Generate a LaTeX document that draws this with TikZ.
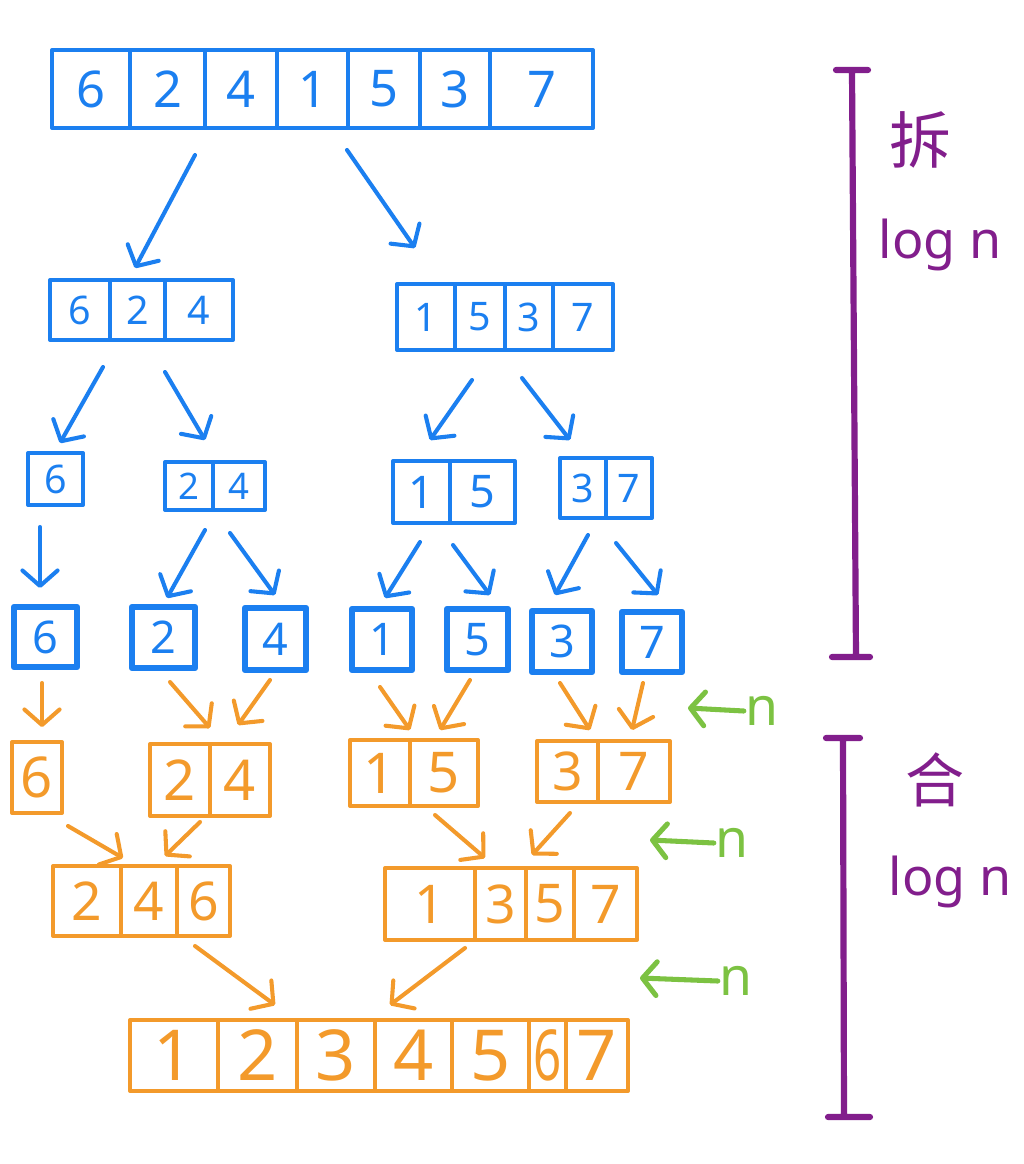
\documentclass[tikz,border=0pt]{standalone}
\usepackage{fontspec}
\setmainfont{Noto Sans}
\newfontfamily\cjk{Noto Sans CJK SC}
\usetikzlibrary{arrows.meta,positioning}

\definecolor{splitblue}{HTML}{1B7FF0}
\definecolor{mergeorange}{HTML}{F39A2B}
\definecolor{costgreen}{HTML}{7CC242}
\definecolor{levelpurple}{HTML}{821E8C}

\newcommand\pxu{0.025cm}

\begin{document}
\begin{tikzpicture}[
    x=0.025cm,
    y=-0.025cm,
    line join=round,
    line cap=round,
    fs/.style={font=\fontsize{#1}{#1}\selectfont},
    cw/.style={minimum width=#1*\pxu},
    ch/.style={minimum height=#1*\pxu},
    bcell/.style={
        draw=splitblue,
        text=splitblue,
        line width=2.9pt,
        rectangle,
        inner sep=0pt,
        outer sep=0pt
    },
    bsingle/.style={bcell, line width=4.6pt},
    ocell/.style={
        draw=mergeorange,
        text=mergeorange,
        line width=2.9pt,
        rectangle,
        inner sep=0pt,
        outer sep=0pt
    },
    split/.style={draw=splitblue, line width=2.9pt, -{Straight Barb[length=11pt,width=25pt,round]}},
    merge/.style={draw=mergeorange, line width=2.9pt, -{Straight Barb[length=11pt,width=25pt,round]}},
    cost/.style={draw=costgreen, line width=3.6pt, -{Straight Barb[length=10pt,width=24pt,round]}},
    costlabel/.style={text=costgreen, fs=38, inner sep=1pt},
    bracket/.style={draw=levelpurple, line width=4.4pt},
    note/.style={text=levelpurple, inner sep=0pt}
]
\useasboundingbox (0,0) rectangle (1024,1164);

% =========================
% Split: blue arrays
% =========================
\node[bcell, fs=36, cw=78, ch=78] (t6) at (91,89) {6};
\node[bcell, fs=36, cw=75, ch=78, right=0pt of t6] (t2) {2};
\node[bcell, fs=36, cw=72, ch=78, right=0pt of t2] (t4) {4};
\node[bcell, fs=36, cw=71, ch=78, right=0pt of t4] (t1) {1};
\node[bcell, fs=36, cw=72, ch=78, right=0pt of t1] (t5) {5};
\node[bcell, fs=36, cw=70, ch=78, right=0pt of t5] (t3) {3};
\node[bcell, fs=36, cw=103, ch=78, right=0pt of t3] (t7) {7};

\node[bcell, fs=28, cw=60, ch=60] (la6) at (80,310) {6};
\node[bcell, fs=28, cw=55, ch=60, right=0pt of la6] (la2) {2};
\node[bcell, fs=28, cw=68, ch=60, right=0pt of la2] (la4) {4};

\node[bcell, fs=28, cw=58, ch=66] (ra1) at (426,317) {1};
\node[bcell, fs=28, cw=50, ch=66, right=0pt of ra1] (ra5) {5};
\node[bcell, fs=28, cw=48, ch=66, right=0pt of ra5] (ra3) {3};
\node[bcell, fs=28, cw=60, ch=66, right=0pt of ra3] (ra7) {7};

\node[bcell, fs=28, cw=55, ch=52] (sa6) at (55.5,479) {6};

\node[bcell, fs=26, cw=48, ch=48] (sb2) at (189,486) {2};
\node[bcell, fs=26, cw=52, ch=48, right=0pt of sb2] (sb4) {4};

\node[bcell, fs=32, cw=57, ch=62] (sc1) at (421.5,492) {1};
\node[bcell, fs=32, cw=65, ch=62, right=0pt of sc1] (sc5) {5};

\node[bcell, fs=28, cw=46, ch=60] (sd3) at (583,488) {3};
\node[bcell, fs=28, cw=46, ch=60, right=0pt of sd3] (sd7) {7};

\node[bsingle, fs=32, cw=63, ch=60] (u6) at (45.5,637) {6};
\node[bsingle, fs=32, cw=63, ch=61] (u2) at (163.5,637.5) {2};
\node[bsingle, fs=32, cw=61, ch=62] (u4) at (275.5,639) {4};
\node[bsingle, fs=32, cw=60, ch=61] (u1) at (382,639.5) {1};
\node[bsingle, fs=32, cw=61, ch=61] (u5) at (477.5,639.5) {5};
\node[bsingle, fs=32, cw=60, ch=61] (u3) at (562,641.5) {3};
\node[bsingle, fs=32, cw=60, ch=60] (u7) at (652,642) {7};

% =========================
% Merge: orange arrays
% =========================
\node[ocell, fs=40, cw=50, ch=71] (mo6) at (37,777.5) {6};

\node[ocell, fs=40, cw=60, ch=72] (mb2) at (180,780) {2};
\node[ocell, fs=40, cw=60, ch=72, right=0pt of mb2] (mb4) {4};

\node[ocell, fs=40, cw=60, ch=66] (mc1) at (380,773) {1};
\node[ocell, fs=40, cw=68, ch=66, right=0pt of mc1] (mc5) {5};

\node[ocell, fs=38, cw=61, ch=61] (md3) at (567.5,771.5) {3};
\node[ocell, fs=38, cw=72, ch=61, right=0pt of md3] (md7) {7};

\node[ocell, fs=38, cw=68, ch=70] (ma2) at (87,901) {2};
\node[ocell, fs=38, cw=56, ch=70, right=0pt of ma2] (ma4) {4};
\node[ocell, fs=38, cw=53, ch=70, right=0pt of ma4] (ma6) {6};

\node[ocell, fs=38, cw=90, ch=72] (mn1) at (430,904) {1};
\node[ocell, fs=38, cw=51, ch=72, right=0pt of mn1] (mn3) {3};
\node[ocell, fs=38, cw=48, ch=72, right=0pt of mn3] (mn5) {5};
\node[ocell, fs=38, cw=63, ch=72, right=0pt of mn5] (mn7) {7};

\node[ocell, fs=50, cw=88, ch=71] (f1) at (174,1055.5) {1};
\node[ocell, fs=50, cw=79, ch=71, right=0pt of f1] (f2) {2};
\node[ocell, fs=50, cw=78, ch=71, right=0pt of f2] (f3) {3};
\node[ocell, fs=50, cw=77, ch=71, right=0pt of f3] (f4) {4};
\node[ocell, fs=50, cw=77, ch=71, right=0pt of f4] (f5) {5};
\node[ocell, fs=50, cw=37, ch=71, right=0pt of f5] (f6) {\makebox[0pt]{\scalebox{0.7}[1]{6}}};
\node[ocell, fs=50, cw=62, ch=71, right=0pt of f6] (f7) {7};

% =========================
% Split arrows
% =========================
\draw[split] ([shift={(27.5,27)}]t2.south) -- ([shift={(-2.5,-12)}]la2.north);
\draw[split] ([shift={(34.5,22)}]t1.south) -- ([shift={(-11,-36)}]ra1.north);
\draw[split] ([shift={(23,27)}]la6.south) -- ([shift={(4.5,-10)}]sa6.north);
\draw[split] ([shift={(27.5,32)}]la2.south) -- ([shift={(16,-22)}]sb2.north);
\draw[split] ([shift={(-8,30)}]ra5.south) -- ([shift={(8.5,-21)}]sc1.north);
\draw[split] ([shift={(-7,28)}]ra3.south) -- ([shift={(-13,-18)}]sd3.north);
\draw[split] ([shift={(-15.5,22)}]sa6.south) -- ([shift={(-5.5,-19)}]u6.north);
\draw[split] ([shift={(16,20)}]sb2.south) -- ([shift={(3.5,-9)}]u2.north);
\draw[split] ([shift={(-9,23)}]sb4.south) -- ([shift={(-0.5,-13)}]u4.north);
\draw[split] ([shift={(-1.5,19)}]sc1.south) -- ([shift={(3,-11)}]u1.north);
\draw[split] ([shift={(-29.5,22)}]sc5.south) -- ([shift={(12.5,-14)}]u5.north);
\draw[split] ([shift={(5,17)}]sd3.south) -- ([shift={(-7,-16)}]u3.north);
\draw[split] ([shift={(-13,25)}]sd7.south) -- ([shift={(6,-17)}]u7.north);

% =========================
% Merge arrows
% =========================
\draw[merge] ([shift={(-3.5,16)}]u6.south) -- ([shift={(5,-15)}]mo6.north);
\draw[merge] ([shift={(6.5,14)}]u2.south) -- ([shift={(30,-16)}]mb2.north);
\draw[merge] ([shift={(-5.5,10)}]u4.south) -- ([shift={(-2,-19)}]mb4.north);
\draw[merge] ([shift={(-2,17)}]u1.south) -- ([shift={(30,-10)}]mc1.north);
\draw[merge] ([shift={(-7.5,10)}]u5.south) -- ([shift={(-4,-10)}]mc5.north);
\draw[merge] ([shift={(-2,11)}]u3.south) -- ([shift={(22.5,-11)}]md3.north);
\draw[merge] ([shift={(-9,11)}]u7.south) -- ([shift={(-2,-11)}]md7.north);
\draw[merge] ([shift={(31,13)}]mo6.south) -- ([shift={(-26,-8)}]ma4.north);
\draw[merge] ([shift={(20,6)}]mb2.south) -- ([shift={(16,-10)}]ma4.north);
\draw[merge] ([shift={(-9,9)}]mc5.south) -- ([shift={(-15.5,-10)}]mn3.north);
\draw[merge] ([shift={(2.5,11)}]md3.south) -- ([shift={(-18,-13)}]mn5.north);
\draw[merge] ([shift={(-8.5,10)}]ma6.south) -- ([shift={(17.5,-15)}]f2.north);
\draw[merge] ([shift={(35,8)}]mn1.south) -- ([shift={(-23.5,-15)}]f4.north);

% =========================
% Cost per level
% =========================
\node[costlabel] (costa) at (762,711) {n};
\node[costlabel] (costb) at (732,843) {n};
\node[costlabel] (costc) at (736,981) {n};
\coordinate (costaend) at (688,708);
\coordinate (costbend) at (650,840);
\coordinate (costcend) at (640,978);
\draw[cost] (costa.west) -- (costaend);
\draw[cost] (costb.west) -- (costbend);
\draw[cost] (costc.west) -- (costcend);

% =========================
% Level brackets
% =========================
\draw[bracket] (836,70) -- (868,70) (852,72) -- (856,657) (832,657) -- (870,657);
\draw[bracket] (826,738) -- (860,738) (843,740) -- (844,1115) (828,1117) -- (870,1117);

\node[note, font=\cjk\fontsize{44}{44}\selectfont] (splitword) at (920,140) {拆};
\node[note, fs=37] (splitcost) at (940,245) {log n};
\node[note, font=\cjk\fontsize{42}{42}\selectfont] (mergeword) at (935,780) {合};
\node[note, fs=37] (mergecost) at (950,882) {log n};

\end{tikzpicture}
\end{document}
